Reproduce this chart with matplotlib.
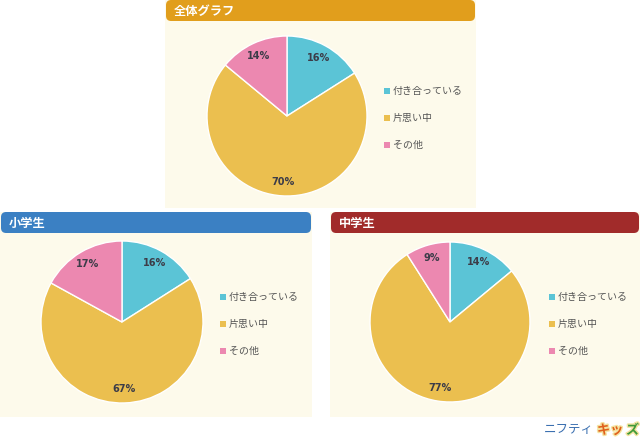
import matplotlib
matplotlib.use("Agg")
import matplotlib.pyplot as plt
import matplotlib.patheffects as pe
from matplotlib.patches import FancyBboxPatch, Rectangle

plt.rcParams['font.family'] = ['Noto Sans CJK JP', 'DejaVu Sans']

# data
categories = ['付き合っている', '片思い中', 'その他']
all_values = [16, 70, 14]
elem_values = [16, 67, 17]
middle_values = [14, 77, 9]
titles = ['全体グラフ', '小学生', '中学生']

colors = ['#5bc4d6', '#ebbf4f', '#ec88b0']
header_colors = ['#e19e1c', '#3b80c3', '#a12b2a']
panel_bg = '#fdfaeb'

W, H = 640, 442
fig = plt.figure(figsize=(W / 100, H / 100), dpi=100)
fig.patch.set_facecolor('white')


def rect(x, y, w, h):
    # pixel box (top-left origin) -> figure fraction
    return [x / W, 1 - (y + h) / H, w / W, h / H]


def draw_panel(x, y, w, h, title, hcolor, values, cx, cy, r, lx):
    # cream background
    bx = rect(x, y, w, h)
    fig.patches.append(Rectangle((bx[0], bx[1]), bx[2], bx[3], transform=fig.transFigure,
                                 facecolor=panel_bg, edgecolor='none', zorder=0))
    # header bar
    hb = rect(x + 1, y, w - 2, 21)
    fig.patches.append(FancyBboxPatch((hb[0], hb[1]), hb[2], hb[3], transform=fig.transFigure,
                                      boxstyle="round,pad=0,rounding_size=0.008",
                                      facecolor=hcolor, edgecolor='none', zorder=1,
                                      mutation_aspect=W / H))
    fig.text((x + 9) / W, 1 - (y + 11) / H, title, color='white', fontsize=8.8,
             fontweight='bold', va='center', ha='left')

    ax = fig.add_axes(rect(cx - r, cy - r, 2 * r, 2 * r))
    ax.set_zorder(3)
    wedges, _, autotexts = ax.pie(values, colors=colors, startangle=90, counterclock=False,
                                  autopct='%d%%', pctdistance=0.83,
                                  wedgeprops=dict(edgecolor='white', linewidth=1))
    for t in autotexts:
        t.set_color('#3c3c48')
        t.set_fontsize(7)
        t.set_fontweight('bold')
        t.set_family('DejaVu Sans')
    ax.set_xlim(-1, 1)
    ax.set_ylim(-1, 1)
    ax.set_aspect('equal')
    ax.axis('off')

    for i, name in enumerate(categories):
        ly = cy - 25 + i * 27
        sq = rect(lx - 3, ly - 3, 6, 6)
        fig.patches.append(Rectangle((sq[0], sq[1]), sq[2], sq[3], transform=fig.transFigure,
                                     facecolor=colors[i], edgecolor='none', zorder=2))
        fig.text((lx + 6) / W, 1 - ly / H, name, color='#555555', fontsize=7.2,
                 va='center', ha='left')


draw_panel(165, 0, 311, 208, titles[0], header_colors[0], all_values, 287, 116, 80, 387)
draw_panel(0, 212, 312, 205, titles[1], header_colors[1], elem_values, 122, 322, 81, 223)
draw_panel(330, 212, 310, 205, titles[2], header_colors[2], middle_values, 450, 322, 80, 552)

# logo
fig.text(594 / W, 1 - 430 / H, 'ニフティ', color='#3a6fb0', fontsize=9,
         ha='right', va='center')
outline = [pe.withStroke(linewidth=2, foreground='#f4e3a0')]
fig.text(597 / W, 1 - 430 / H, 'キッ', color='#e0601c', fontsize=9.5,
         fontweight='bold', ha='left', va='center', path_effects=outline)
fig.text(626 / W, 1 - 430 / H, 'ズ', color='#3f9a3a', fontsize=9.5,
         fontweight='bold', ha='left', va='center', path_effects=outline)

fig.savefig('out.png', dpi=100, facecolor='white')
